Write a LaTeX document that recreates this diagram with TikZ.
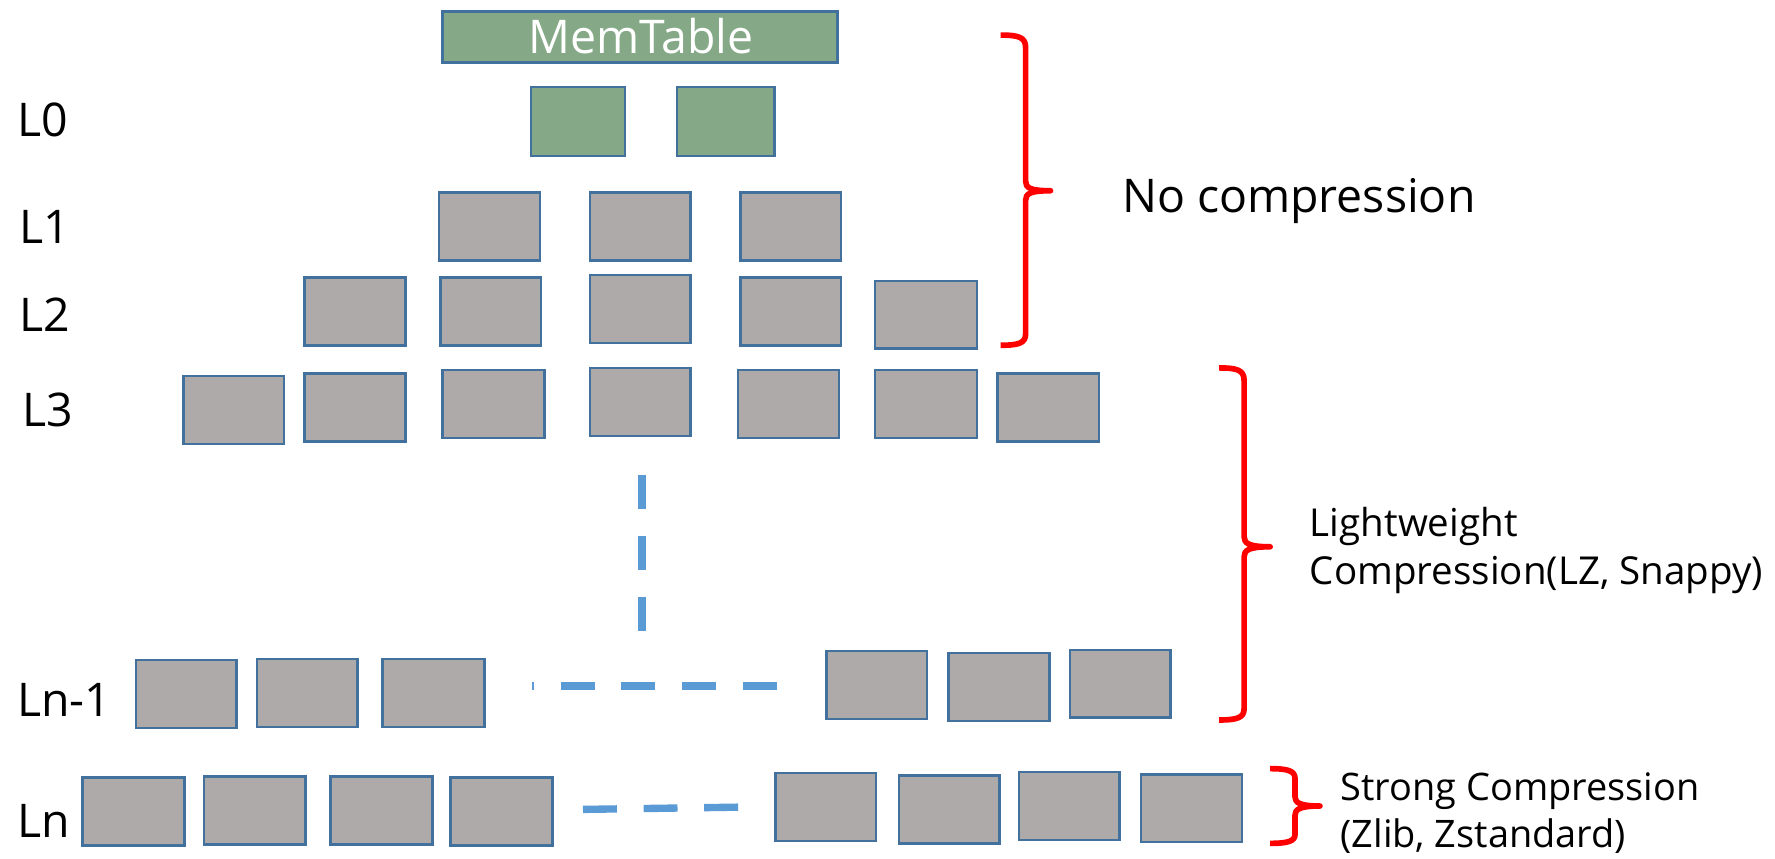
\documentclass[tikz,border=0pt]{standalone}
\usepackage{fontspec}
\setmainfont{Open Sans}
\definecolor{boxgray}{HTML}{AEAAAA}
\definecolor{boxedge}{HTML}{41719C}
\definecolor{memgreen}{HTML}{85A987}
\definecolor{dashblue}{HTML}{5B9BD5}
\definecolor{bracered}{HTML}{FF0000}
\tikzset{
  blk/.style={draw=boxedge, line width=2.2pt, fill=boxgray, inner sep=0pt, outer sep=0pt},
  grn/.style={blk, fill=memgreen},
  lvl/.style={anchor=base west, inner sep=0pt, font=\fontsize{41}{49}\selectfont},
  dotline/.style={draw=dashblue, line width=6.5pt, dash pattern=on 30pt off 23.5pt},
  brace/.style={draw=bracered, line width=5pt, line cap=butt, line join=round},
  note/.style={anchor=base west, inner sep=0pt, align=left}
}
\newcommand{\blkat}[6]{\node[#1, minimum width={(#5-#3)*1pt}, minimum height={(#6-#4)*1pt}] (#2) at ({(#3+#5)/2},{(#4+#6)/2}) {};}
\begin{document}
\begin{tikzpicture}[x=1pt,y=-1pt]
\useasboundingbox (0,0) rectangle (1568,758);
% MemTable
\node[grn, minimum width=349pt, minimum height=45pt] (mem) at (565.5,32.5) {};
\node[anchor=base, inner sep=0pt, text=white, font=\fontsize{41}{49}\selectfont] (memt) at (566,47.5) {MemTable};
% L0
\blkat{grn}{l0a}{469}{77}{552}{138}
\blkat{grn}{l0b}{598}{77}{684}{138}
% L1
\blkat{blk}{l1a}{388}{170}{477}{230}
\blkat{blk}{l1b}{521}{170}{610}{230}
\blkat{blk}{l1c}{654}{170}{743}{230}
% L2
\blkat{blk}{l2a}{269}{245}{358}{305}
\blkat{blk}{l2b}{389}{245}{478}{305}
\blkat{blk}{l2c}{521}{243}{610}{303}
\blkat{blk}{l2d}{654}{245}{743}{305}
\blkat{blk}{l2e}{773}{248}{863}{308}
% L3
\blkat{blk}{l3a}{162}{332}{251}{392}
\blkat{blk}{l3b}{269}{330}{358}{390}
\blkat{blk}{l3c}{391}{327}{481}{387}
\blkat{blk}{l3d}{521}{325}{610}{385}
\blkat{blk}{l3e}{652}{327}{741}{387}
\blkat{blk}{l3f}{773}{327}{863}{387}
\blkat{blk}{l3g}{881}{330}{971}{390}
% Ln-1
\blkat{blk}{lma}{120}{583}{209}{643}
\blkat{blk}{lmb}{227}{582}{316}{642}
\blkat{blk}{lmc}{338}{582}{428}{642}
\blkat{blk}{lmd}{730}{575}{819}{635}
\blkat{blk}{lme}{838}{577}{927}{637}
\blkat{blk}{lmf}{945}{574}{1034}{634}
% Ln
\blkat{blk}{lna}{73}{687}{163}{747}
\blkat{blk}{lnb}{180}{686}{270}{746}
\blkat{blk}{lnc}{292}{686}{382}{746}
\blkat{blk}{lnd}{398}{687}{488}{747}
\blkat{blk}{lne}{685}{683}{774}{743}
\blkat{blk}{lnf}{794}{685}{883}{745}
\blkat{blk}{lng}{900}{682}{989}{742}
\blkat{blk}{lnh}{1008}{684}{1097}{744}
% level labels
\node[lvl] (t0) at (15,121) {L0};
\node[lvl] (t1) at (17,215) {L1};
\node[lvl] (t2) at (17,293) {L2};
\node[lvl] (t3) at (20,377) {L3};
\node[lvl] (tm) at (15,633) {Ln-1};
\node[lvl] (tn) at (15,740) {Ln};
% dashed ellipses
\coordinate (v1) at (567,420);
\coordinate (v2) at (567,557);
\draw[dotline] (v1) -- (v2);
\coordinate (h1) at (470,606);
\coordinate (h2) at (686,606);
\draw[dotline, dash phase=28pt] (h1) -- (h2);
\coordinate (g1) at (515,715);
\coordinate (g2) at (653,713);
\draw[dotline] (g1) -- (g2);
% braces
\draw[brace] (884,31) .. controls (900,31) and (906,33) .. (906,42) -- (906,160)
  .. controls (906,166) and (910,168.5) .. (928,168.5)
  .. controls (910,168.5) and (906,171) .. (906,177) -- (906,295)
  .. controls (906,303) and (900,305) .. (884,305);
\draw[brace] (1077,325) .. controls (1093,325) and (1099,327) .. (1099,336) -- (1099,474)
  .. controls (1099,480) and (1103,483) .. (1122,483)
  .. controls (1103,483) and (1099,486) .. (1099,492) -- (1099,626)
  .. controls (1099,634) and (1093,636) .. (1077,636);
\draw[brace] (1122,679) .. controls (1138,679) and (1144,681) .. (1144,688) -- (1144,704)
  .. controls (1144,709) and (1148,712) .. (1166,712)
  .. controls (1148,712) and (1144,715) .. (1144,720) -- (1144,737)
  .. controls (1144,743) and (1138,745) .. (1122,745);
% notes
\node[note, font=\fontsize{41}{49}\selectfont] (nc) at (991,187.5) {No compression};
\node[note, font=\fontsize{34}{42.5}\selectfont] (lw) at (1157,516) {Lightweight\\Compression(LZ, Snappy)};
\node[note, font=\fontsize{33.5}{42}\selectfont] (sc) at (1184,749) {Strong Compression\\(Zlib, Zstandard)};
\end{tikzpicture}
\end{document}
